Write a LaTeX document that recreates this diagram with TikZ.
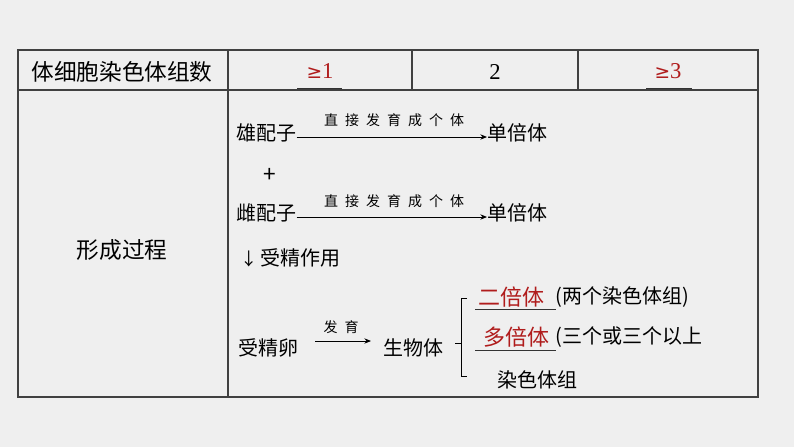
\documentclass[tikz,border=0pt]{standalone}
\usepackage{fontspec}
\setmainfont{Noto Sans CJK SC}
\newfontfamily\numfont{Liberation Serif}
\newfontfamily\symfont{DejaVu Sans}
\usetikzlibrary{arrows.meta}
\definecolor{bg}{HTML}{EFEFEF}
\definecolor{myred}{HTML}{B01C1C}
\tikzset{
  grid/.style={draw=black!75, line width=0.8pt},
  txt/.style={inner sep=0, font=\fontsize{15}{15}\selectfont, anchor=west},
  ctxt/.style={inner sep=0, font=\fontsize{17}{17}\selectfont},
  small/.style={inner sep=0, font=\fontsize{10.5}{10.5}\selectfont},
  red/.style={text=myred},
  arr/.style={-{Stealth[length=5pt,width=4pt]}, line width=0.6pt},
  ul/.style={draw=black!80, line width=0.6pt}
}
\begin{document}
\begin{tikzpicture}[x=0.75pt,y=-0.75pt]
\fill[bg] (0,0) rectangle (794,447);
\useasboundingbox (0,0) rectangle (794,447);
% table
\draw[grid] (18,50) rectangle (758,397);
\draw[grid] (18,90) -- (758,90);
\draw[grid] (228,50) -- (228,397);
\draw[grid] (412,50) -- (412,90);
\draw[grid] (578,50) -- (578,90);
% row 1
\node[ctxt] (h) at (122,72) {体细胞染色体组数};
\node[ctxt, red, font=\numfont\fontsize{17}{17}\selectfont] (g1) at (320,71) {{\symfont\fontsize{14}{14}\selectfont ≥}1};
\node[ctxt, font=\numfont\fontsize{17}{17}\selectfont] (two) at (495,72) {2};
\node[ctxt, red, font=\numfont\fontsize{17}{17}\selectfont] (g3) at (668,71) {{\symfont\fontsize{14}{14}\selectfont ≥}3};
\coordinate (u1a) at (297,88); \coordinate (u1b) at (342,88);
\coordinate (u3a) at (646,88); \coordinate (u3b) at (692,88);
\draw[ul] (u1a) -- (u1b); \draw[ul] (u3a) -- (u3b);
% row 2
\node[ctxt] (xc) at (122,250) {形成过程};
\node[txt] (m1) at (236,133) {雄配子};
\node[txt] (h1) at (487,133) {单倍体};
\draw[arr] (m1.east) ++(0,4) coordinate (a1) -- (h1.west |- a1);
\node[small] at (394,120) {直\hspace{0.5em}接\hspace{0.5em}发\hspace{0.5em}育\hspace{0.5em}成\hspace{0.5em}个\hspace{0.5em}体};
\node[ctxt] (plus) at (270,175) {+};
\node[txt] (m2) at (236,213) {雌配子};
\node[txt] (h2) at (487,213) {单倍体};
\draw[arr] (m2.east) ++(0,4) coordinate (a2) -- (h2.west |- a2);
\node[small] at (394,201) {直\hspace{0.5em}接\hspace{0.5em}发\hspace{0.5em}育\hspace{0.5em}成\hspace{0.5em}个\hspace{0.5em}体};
\node[txt] (sj) at (240,258) {\fontsize{13}{13}\selectfont↓\,\fontsize{15}{15}\selectfont 受精作用};
\node[txt] (zy) at (238,348) {受精卵};
\node[txt] (org) at (383,348) {生物体};
\coordinate (a3s) at (315,341); \coordinate (a3e) at (371,341);
\draw[arr] (a3s) -- (a3e);
\node[small] at (341,327) {发\hspace{0.5em}育};
% brace
\draw[line width=0.6pt] (467,298) -- (461,298) -- (461,376) -- (467,376);
\draw[line width=0.6pt] (455,343) -- (461,343);
\node[txt, red, font=\fontsize{16.5}{16.5}\selectfont] (d2) at (478,297) {二倍体};
\node[txt] (d2t) at (555,297) {(两个染色体组)};
\draw[ul] (475,309) -- (556,309);
\node[txt, red, font=\fontsize{16.5}{16.5}\selectfont] (dp) at (483,337) {多倍体};
\node[txt] (dpt) at (555,337) {(三个或三个以上};
\draw[ul] (475,350) -- (556,350);
\node[txt] (rs) at (497,380) {染色体组};
\end{tikzpicture}
\end{document}
